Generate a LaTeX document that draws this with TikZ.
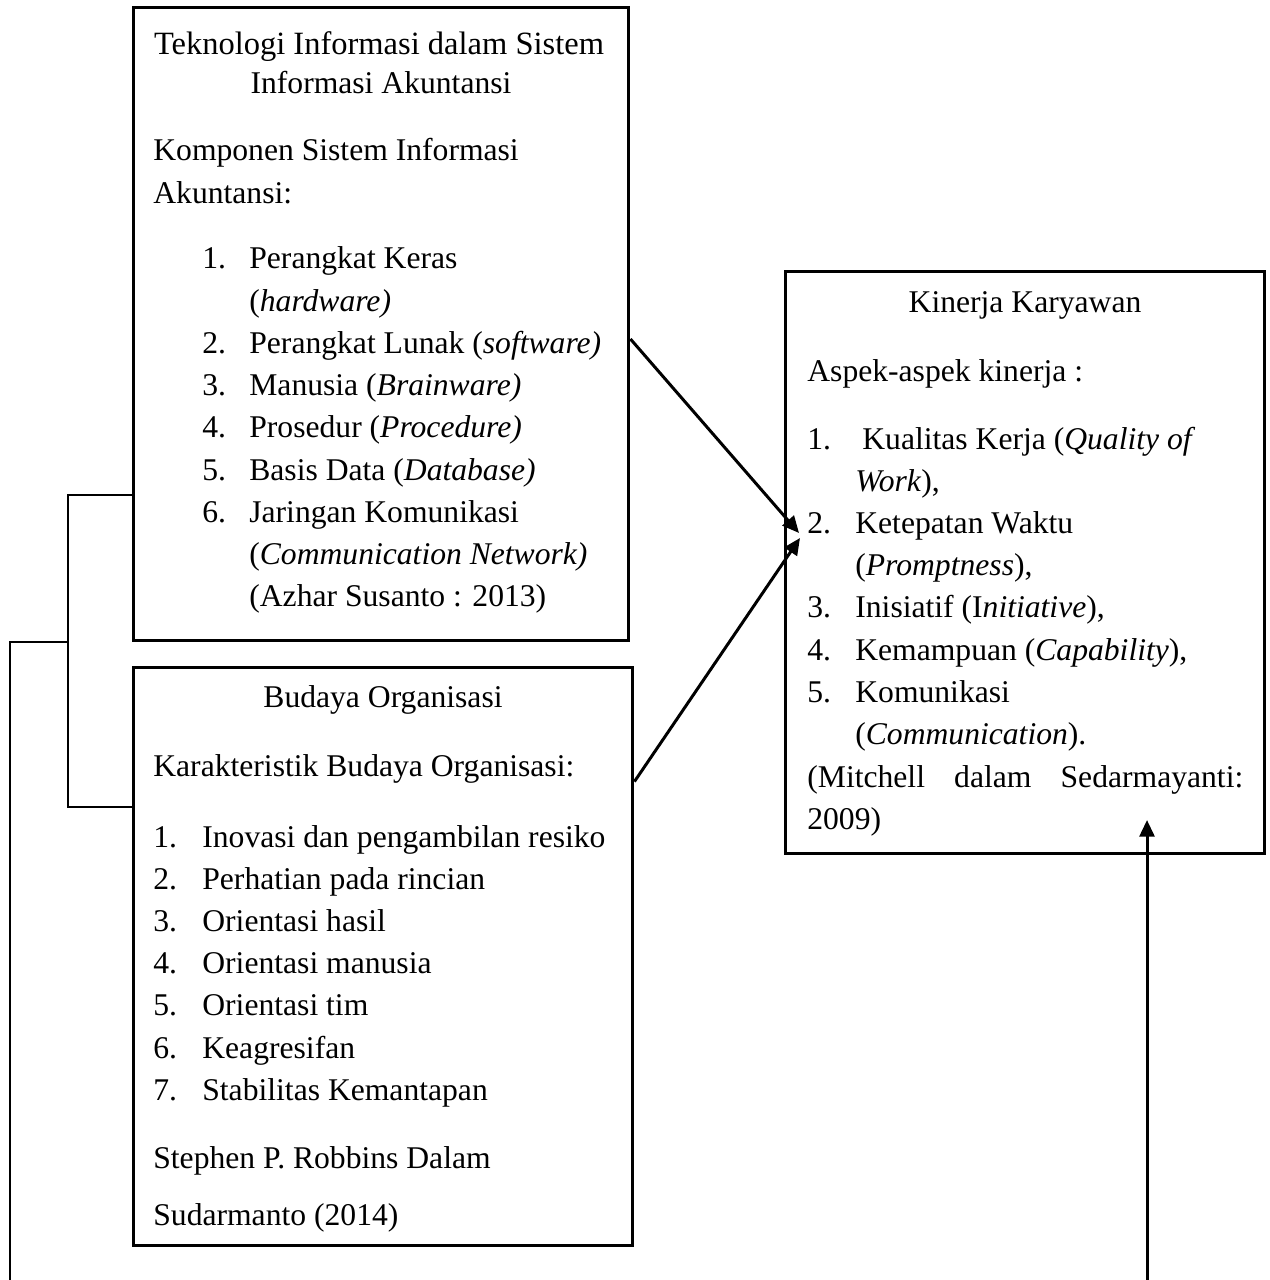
\documentclass[tikz,border=0pt]{standalone}
\usepackage{fontspec}
\setmainfont{Liberation Serif}
\usetikzlibrary{arrows.meta}
\usetikzlibrary{calc}

\begin{document}
\begin{tikzpicture}[x=0.02cm, y=-0.02cm,
    box/.style={draw, line width=1.7pt, inner sep=0pt},
    txt/.style={anchor=base west, inner sep=0pt, font=\fontsize{18}{22}\selectfont},
    ttl/.style={txt, anchor=base},
    arr/.style={line width=1.7pt, -{Triangle[length=9.5pt, width=8.5pt]}},
    link/.style={line width=1.2pt}]
        % Fix the page size
        \useasboundingbox (0,0) rectangle (1269,1280);
        % Define the line spacing inside the boxes
        \def\gap{42.2}

        % Draw the three boxes
        \node[box, minimum width=9.92cm, minimum height=12.68cm] (tik) at (381,324) {};
        \node[box, minimum width=10cm, minimum height=11.58cm] (bud) at (383,956.5) {};
        \node[box, minimum width=9.6cm, minimum height=11.66cm] (kin) at (1025,562.5) {};

        % Teknologi Informasi box
        \node[ttl] (tik-h1) at (379,55) {\fontsize{18.5}{22}\selectfont Teknologi Informasi dalam Sistem};
        \node[ttl] (tik-h2) at (381,94) {Informasi Akuntansi};
        \node[txt] (tik-s1) at (153,161) {Komponen Sistem Informasi};
        \node[txt] (tik-s2) at (153,204) {Akuntansi:};
        \foreach \txt [count=\k] in {Perangkat Keras, {(\textit{hardware)}},
          {Perangkat Lunak (\textit{software)}}, {Manusia (\textit{Brainware)}},
          {Prosedur (\textit{Procedure)}}, {Basis Data (\textit{Database)}},
          Jaringan Komunikasi, {(\textit{Communication Network)}}, {(Azhar Susanto : 2013)}}
        {
          \node[txt] (tik-t\k) at (249,{269+\gap*(\k-1)}) {\txt};
        }
        \foreach \n/\k in {1/0, 2/2, 3/3, 4/4, 5/5, 6/6}
          \node[txt] (tik-n\n) at (202,{269+\gap*\k}) {\n.};

        % Budaya Organisasi box
        \node[ttl] (bud-h) at (383,707) {Budaya Organisasi};
        \node[txt] (bud-s) at (153,776) {Karakteristik Budaya Organisasi:};
        \foreach \txt [count=\k] in {Inovasi dan pengambilan resiko, Perhatian pada rincian,
          Orientasi hasil, Orientasi manusia, Orientasi tim, Keagresifan, Stabilitas Kemantapan}
        {
          \node[txt] (bud-n\k) at (153,{847+\gap*(\k-1)}) {\k.};
          \node[txt] (bud-t\k) at (202,{847+\gap*(\k-1)}) {\txt};
        }
        \node[txt] (bud-r1) at (153,1168) {Stephen P. Robbins Dalam};
        \node[txt] (bud-r2) at (153,1225) {Sudarmanto (2014)};

        % Kinerja Karyawan box
        \node[ttl] (kin-h) at (1025,313) {Kinerja Karyawan};
        \node[txt] (kin-s) at (807,381) {Aspek-aspek kinerja :};
        \foreach \x/\txt [count=\k] in {862/{Kualitas Kerja (\textit{Quality of}}, 855/{\textit{Work}),},
          855/{Ketepatan Waktu}, 855/{(\textit{Promptness}),}, 855/{Inisiatif (I\textit{nitiative}),},
          855/{Kemampuan (\textit{Capability}),}, 855/{Komunikasi}, 855/{(\textit{Communication}).}}
        {
          \node[txt] (kin-t\k) at (\x,{449+\gap*(\k-1)}) {\txt};
        }
        \foreach \n/\k in {1/0, 2/2, 3/4, 4/5, 5/6}
          \node[txt] (kin-n\n) at (807,{449+\gap*\k}) {\n.};
        \node[txt] (kin-r1) at (807,787) {\makebox[8.72cm][s]{(Mitchell\hfill dalam\hfill Sedarmayanti:}};
        \node[txt] (kin-r2) at (807,829) {2009)};

        % Arrows into the Kinerja box
        \coordinate (kin-in1) at (799,533);
        \coordinate (kin-in2) at (800,538);
        \coordinate (kin-in3) at (1147,820);
        \coordinate (low-r) at (1147,1285);
        \draw[arr] ([yshift=-0.3cm]tik.east) -- (kin-in1);
        \draw[arr] ([yshift=-2.32cm]bud.north east) -- (kin-in2);
        \draw[arr] (low-r) -- (kin-in3);

        % Bracket joining the two left boxes
        \coordinate (brk-top) at (68,495);
        \coordinate (brk-bot) at (68,807);
        \coordinate (low-l) at (10,1285);
        \draw[link] (tik.west |- brk-top) -- (brk-top) -- (brk-bot) -- (bud.west |- brk-bot);
        \draw[link] (low-l) |- (brk-top |- tik.south);
\end{tikzpicture}
\end{document}
